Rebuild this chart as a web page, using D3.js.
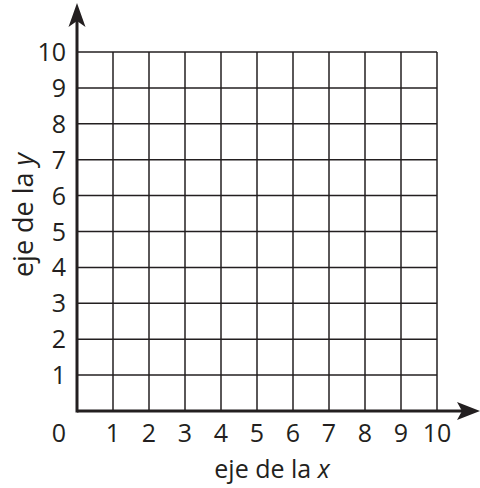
<!DOCTYPE html>
<html>
<head>
<meta charset="utf-8">
<script src="https://cdn.jsdelivr.net/npm/d3@7"></script>
<style>
  html, body { margin: 0; padding: 0; background: #fff; }
  svg { display: block; }
  text { font-family: "Open Sans", "Noto Sans", sans-serif; fill: #231f20; }
</style>
</head>
<body>
<svg id="chart" width="480" height="488"></svg>
<script>
// Coordinate grid: 10 × 10 units in the first quadrant
const xTicks = [0, 1, 2, 3, 4, 5, 6, 7, 8, 9, 10];
const yTicks = [1, 2, 3, 4, 5, 6, 7, 8, 9, 10];
const gridValues = [1, 2, 3, 4, 5, 6, 7, 8, 9, 10];
const xTitle = ["eje de la ", "x"];
const yTitle = ["eje de la ", "y"];

const ink = "#231f20";
const svg = d3.select("#chart");

const x = d3.scaleLinear().domain([0, 10]).range([77, 437]);
const y = d3.scaleLinear().domain([0, 10]).range([411, 52]);

// Grid lines
const grid = svg.append("g").attr("stroke", ink).attr("stroke-width", 1.5);
grid.selectAll("line.v").data(gridValues).join("line")
  .attr("class", "v")
  .attr("x1", d => x(d)).attr("x2", d => x(d))
  .attr("y1", y(0)).attr("y2", y(10));
grid.selectAll("line.h").data(gridValues).join("line")
  .attr("class", "h")
  .attr("x1", x(0)).attr("x2", x(10))
  .attr("y1", d => y(d)).attr("y2", d => y(d));

// Axes with arrowheads
const axes = svg.append("g");
axes.append("line")
  .attr("x1", x(0)).attr("x2", 466)
  .attr("y1", y(0)).attr("y2", y(0))
  .attr("stroke", ink).attr("stroke-width", 3);
axes.append("line")
  .attr("x1", x(0)).attr("x2", x(0))
  .attr("y1", y(0) + 1.5).attr("y2", 16)
  .attr("stroke", ink).attr("stroke-width", 3);

const ax = x(0), ay = y(0);
// up arrow
axes.append("path")
  .attr("d", `M${ax},3 L${ax + 8.5},27 L${ax},21 L${ax - 8.5},27 Z`)
  .attr("fill", ink);
// right arrow
axes.append("path")
  .attr("d", `M480,${ay} L457,${ay - 9} L462,${ay} L457,${ay + 9} Z`)
  .attr("fill", ink);

// Tick labels
svg.append("g").selectAll("text").data(xTicks).join("text")
  .attr("x", d => d === 0 ? 59 : x(d))
  .attr("y", 442)
  .attr("text-anchor", "middle")
  .attr("font-size", 25)
  .text(d => d);

svg.append("g").selectAll("text").data(yTicks).join("text")
  .attr("x", 66)
  .attr("y", d => y(d))
  .attr("dy", "0.36em")
  .attr("text-anchor", "end")
  .attr("font-size", 25)
  .text(d => d);

// Axis titles
const xt = svg.append("text")
  .attr("x", 272).attr("y", 478)
  .attr("text-anchor", "middle")
  .attr("font-size", 25);
xt.append("tspan").text(xTitle[0]);
xt.append("tspan").attr("font-style", "italic").text(xTitle[1]);

const yt = svg.append("text")
  .attr("transform", "translate(33,215) rotate(-90)")
  .attr("text-anchor", "middle")
  .attr("font-size", 27);
yt.append("tspan").text(yTitle[0]);
yt.append("tspan").attr("font-style", "italic").text(yTitle[1]);
</script>
</body>
</html>
